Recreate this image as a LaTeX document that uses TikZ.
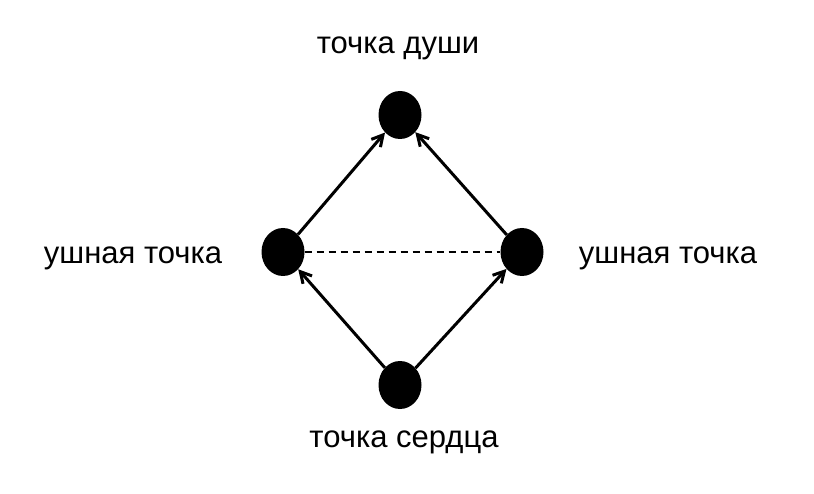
\documentclass[tikz,border=0pt]{standalone}
\usepackage{fontspec}
\setmainfont{Liberation Sans}
\usetikzlibrary{arrows.meta,shapes.geometric}
\begin{document}
\begin{tikzpicture}[x=1pt,y=-1pt,
  dot/.style={ellipse,fill=black,minimum width=43pt,minimum height=48pt,inner sep=0pt},
  lab/.style={font=\fontsize{31}{36}\selectfont},
  arr/.style={line width=3pt,-{Straight Barb[length=11pt,width=12pt]}}]
\useasboundingbox (0,0) rectangle (814,494);
\node[dot] (t) at (400,115) {};
\node[dot] (l) at (283,252) {};
\node[dot] (r) at (522,252) {};
\node[dot] (b) at (400,385) {};
\node[lab] (tl) at (398,48) {точка души};
\node[lab] (ll) at (133,258) {ушная точка};
\node[lab] (rl) at (668,258) {ушная точка};
\node[lab] (bl) at (404,442) {точка сердца};
\draw[arr] (l) -- (t);
\draw[arr] (r) -- (t);
\draw[arr] (b) -- (l);
\draw[arr] (b) -- (r);
\draw[line width=1.3pt,dash pattern=on 7pt off 5pt] (l) -- (r);
\end{tikzpicture}
\end{document}
